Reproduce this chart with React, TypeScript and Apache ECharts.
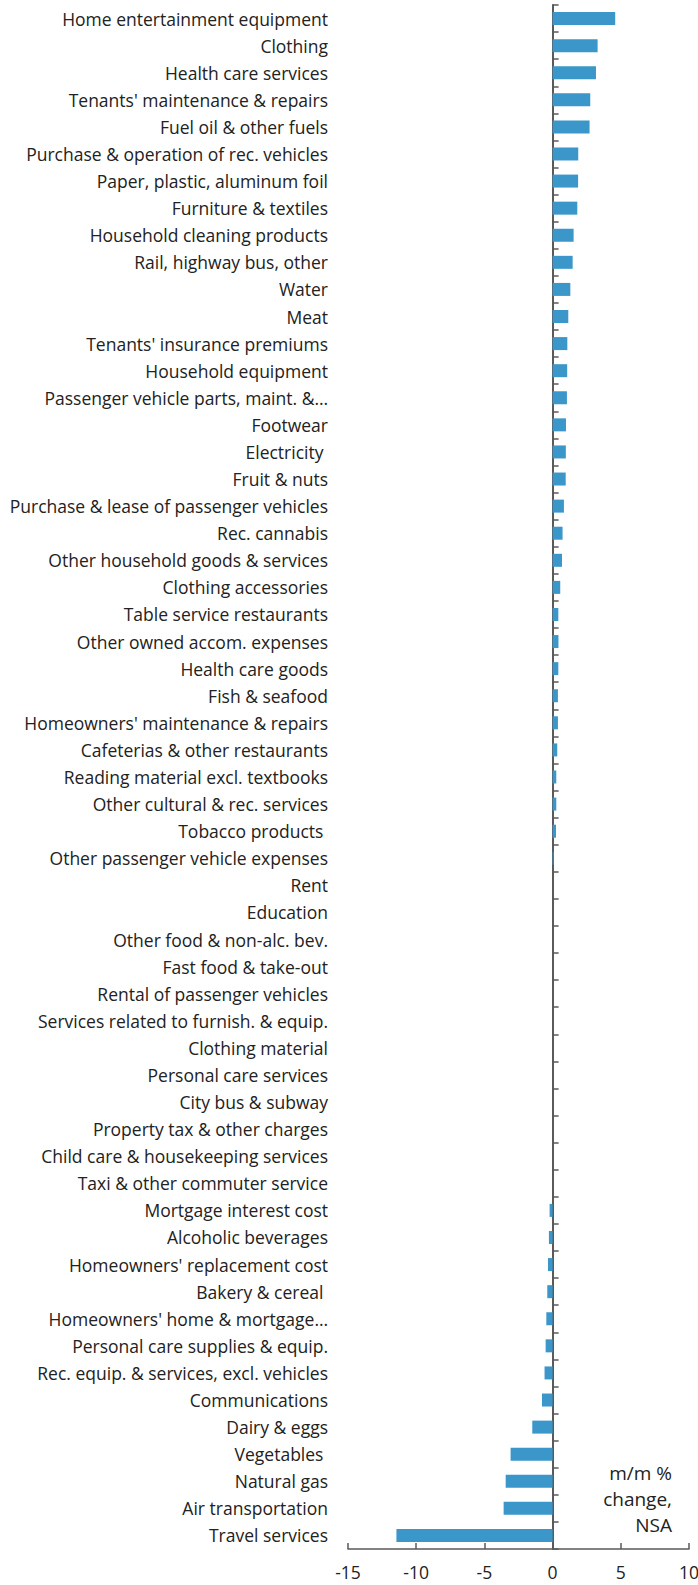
import React, { useEffect, useRef } from "react";
import * as echarts from "echarts";

const categories = [
  "Home entertainment equipment",
  "Clothing",
  "Health care services",
  "Tenants' maintenance & repairs",
  "Fuel oil & other fuels",
  "Purchase & operation of rec. vehicles",
  "Paper, plastic, aluminum foil",
  "Furniture & textiles",
  "Household cleaning products",
  "Rail, highway bus, other",
  "Water",
  "Meat",
  "Tenants' insurance premiums",
  "Household equipment",
  "Passenger vehicle parts, maint. &…",
  "Footwear",
  "Electricity ",
  "Fruit & nuts",
  "Purchase & lease of passenger vehicles",
  "Rec. cannabis",
  "Other household goods & services",
  "Clothing accessories",
  "Table service restaurants",
  "Other owned accom. expenses",
  "Health care goods",
  "Fish & seafood",
  "Homeowners' maintenance & repairs",
  "Cafeterias & other restaurants",
  "Reading material excl. textbooks",
  "Other cultural & rec. services",
  "Tobacco products ",
  "Other passenger vehicle expenses",
  "Rent",
  "Education",
  "Other food & non-alc. bev.",
  "Fast food & take-out",
  "Rental of passenger vehicles",
  "Services related to furnish. & equip.",
  "Clothing material",
  "Personal care services",
  "City bus & subway",
  "Property tax & other charges",
  "Child care & housekeeping services",
  "Taxi & other commuter service",
  "Mortgage interest cost",
  "Alcoholic beverages",
  "Homeowners' replacement cost",
  "Bakery & cereal ",
  "Homeowners' home & mortgage…",
  "Personal care supplies & equip.",
  "Rec. equip. & services, excl. vehicles",
  "Communications",
  "Dairy & eggs",
  "Vegetables ",
  "Natural gas",
  "Air transportation",
  "Travel services",
];

const values = [
  4.59, 3.3, 3.18, 2.76, 2.71, 1.88, 1.87, 1.81, 1.54, 1.47,
  1.3, 1.15, 1.08, 1.07, 1.05, 0.98, 0.97, 0.96, 0.83, 0.73,
  0.69, 0.56, 0.42, 0.43, 0.42, 0.39, 0.39, 0.34, 0.27, 0.27,
  0.25, 0.07, 0, 0, 0, 0, 0, 0, 0, 0,
  0, 0, 0, 0, -0.22, -0.27, -0.34, -0.39, -0.46, -0.51,
  -0.59, -0.78, -1.49, -3.08, -3.44, -3.59, -11.45,
];

const unitLines = ["m/m %", "change,", "NSA"];

const FONT = "'Open Sans', 'Noto Sans', sans-serif";

export default function App() {
  const ref = useRef<HTMLDivElement>(null);
  useEffect(() => {
    if (!ref.current) return;
    const chart = echarts.init(ref.current, null, { renderer: "svg" });
    chart.setOption({
      animation: false,
      textStyle: { fontFamily: FONT },
      grid: {
        left: 348,
        right: 9,
        top: 5,
        bottom: 36,
        containLabel: false,
        outerBoundsMode: "none",
      },
      xAxis: {
        type: "value",
        min: -15,
        max: 10,
        interval: 5,
        splitLine: { show: false },
        axisLine: { show: true, lineStyle: { color: "#5a5a5a", width: 1.5 } },
        axisTick: { show: true, inside: true, length: 6, lineStyle: { color: "#5a5a5a", width: 1.5 } },
        axisLabel: { color: "#222", fontSize: 17.5, margin: 14, fontFamily: FONT },
      },
      yAxis: {
        type: "category",
        inverse: true,
        data: categories,
        axisLine: { show: true, onZero: true, lineStyle: { color: "#5a5a5a", width: 2 } },
        axisTick: { show: true, inside: true, length: 6, lineStyle: { color: "#5a5a5a", width: 1.5 } },
        axisLabel: { color: "#222", fontSize: 17.5, margin: 20, fontFamily: FONT },
      },
      series: [
        {
          type: "bar",
          data: values,
          barWidth: 13,
          itemStyle: { color: "#3b96ca" },
        },
      ],
      graphic: unitLines.map((t, i) => ({
        type: "text",
        x: 672,
        y: 1473 + i * 26,
        style: {
          text: t,
          fill: "#222",
          font: `19px ${FONT}`,
          textAlign: "right",
          textVerticalAlign: "middle",
        },
      })),
    });
    return () => chart.dispose();
  }, []);
  return (
    <div
      ref={ref}
      style={{ position: "absolute", left: 0, top: 0, width: 698, height: 1585 }}
    />
  );
}
